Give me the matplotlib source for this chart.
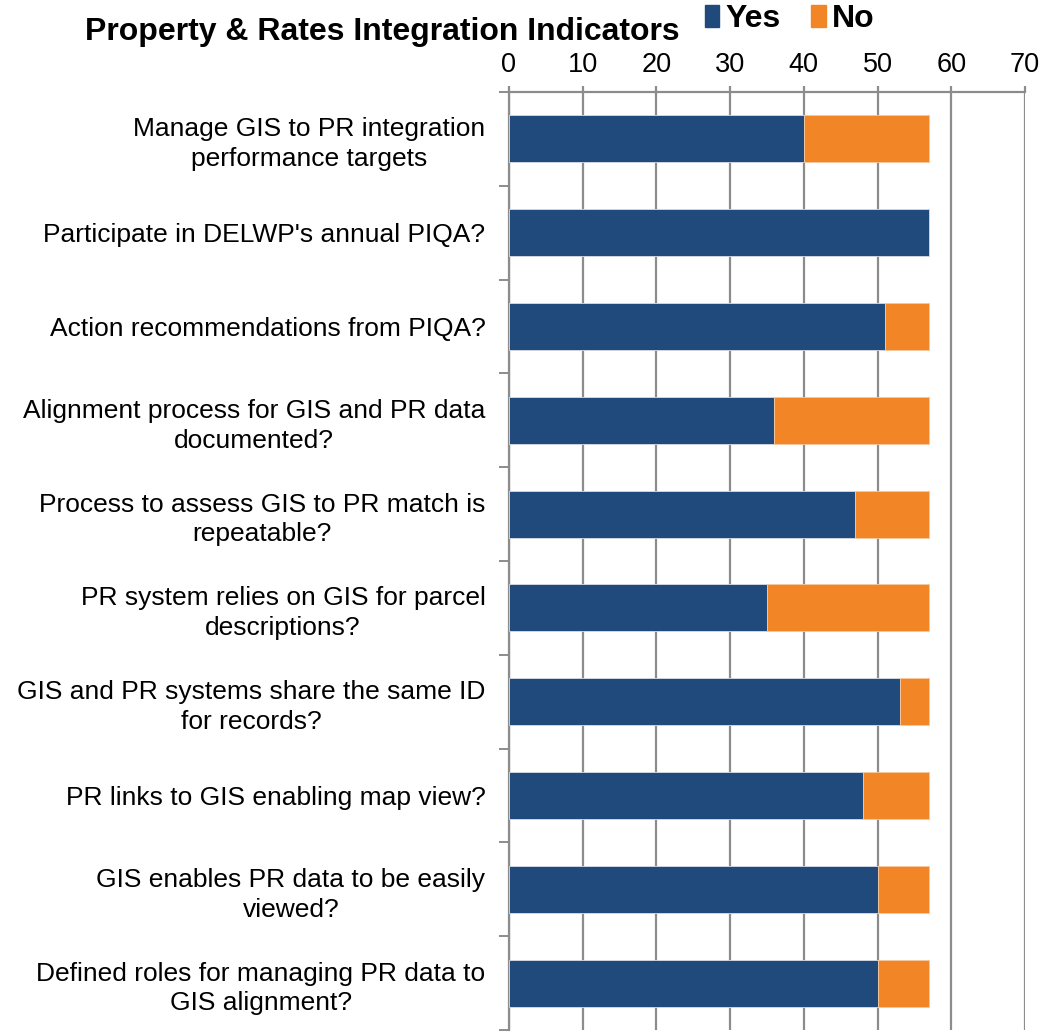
import numpy as np
import matplotlib.pyplot as plt
from matplotlib.patches import Patch

plt.rcParams['font.family'] = ['Liberation Sans', 'DejaVu Sans']

categories = [
    'Manage GIS to PR integration\nperformance targets',
    "Participate in DELWP's annual PIQA?",
    'Action recommendations from PIQA?',
    'Alignment process for GIS and PR data\ndocumented?',
    'Process to assess GIS to PR match is\nrepeatable?',
    'PR system relies on GIS for parcel\ndescriptions?',
    'GIS and PR systems share the same ID\nfor records?',
    'PR links to GIS enabling map view?',
    'GIS enables PR data to be easily\nviewed?',
    'Defined roles for managing PR data to\nGIS alignment?',
]
yes = [40, 57, 51, 36, 47, 35, 53, 48, 50, 50]
no = [17, 0, 6, 21, 10, 22, 4, 9, 7, 7]

navy = '#214A7C'
orange = '#F28626'
grid = '#8C8C8C'

fig = plt.figure(figsize=(10.43, 10.35), dpi=100)
ax = fig.add_axes([509/1043, 5/1035, 516/1043, 938/1035])

y = np.arange(len(categories))
ax.barh(y, yes, height=0.5, color=navy, edgecolor='#D9DDE6', linewidth=0.6, zorder=3)
ax.barh(y, no, left=yes, height=0.5, color=orange, edgecolor='#F6C9A0', linewidth=0.6, zorder=3)

ax.set_xlim(0, 70)
ax.set_ylim(len(categories) - 0.5, -0.5)
ax.set_xticks(range(0, 71, 10))
ax.xaxis.tick_top()
ax.tick_params(axis='x', labelsize=19.5, length=4, width=1.6, color=grid, pad=6)
ax.grid(axis='x', color=grid, linewidth=1.6, zorder=0)

ax.set_yticks(y)
ax.set_yticklabels(categories, fontsize=19, multialignment='center', linespacing=1.3)
ax.tick_params(axis='y', which='major', length=0, pad=17)
ax.set_yticks(np.arange(-0.5, len(categories), 1), minor=True)
ax.tick_params(axis='y', which='minor', length=7, width=1.4, color=grid, direction='out')

for s in ['right', 'bottom']:
    ax.spines[s].set_visible(False)
ax.spines['left'].set_color(grid)
ax.spines['left'].set_linewidth(1.6)
ax.spines['top'].set_color(grid)
ax.spines['top'].set_linewidth(1.6)

fig.text(85/1043, 1 - 32/1035, 'Property & Rates Integration Indicators',
         fontsize=23, fontweight='bold', va='center', ha='left')
handles = [Patch(color=navy), Patch(color=orange)]
fig.legend(handles, ['Yes', 'No'], loc='center left', bbox_to_anchor=(705/1043, 1 - 19/1035),
           ncol=2, frameon=False, prop={'weight': 'bold', 'size': 23},
           handlelength=0.45, handleheight=0.7, handletextpad=0.2, columnspacing=0.95,
           borderaxespad=0, borderpad=0)

fig.savefig('out.png', dpi=100)
